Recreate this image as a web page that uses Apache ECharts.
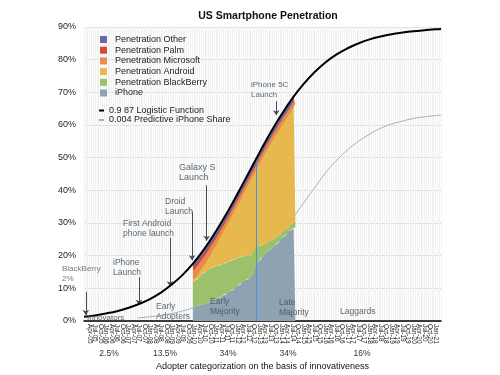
<!DOCTYPE html>
<html>
<head>
<meta charset="utf-8">
<script src="https://cdn.jsdelivr.net/npm/echarts@6/dist/echarts.min.js"></script>
<style>
  html, body { margin: 0; padding: 0; background: #fff; }
  #chart { width: 500px; height: 375px; }
</style>
</head>
<body>
<div id="chart"></div>
<script>
// monthly axis, Jan-05 .. Apr-21
const monthNames = ['Jan','Feb','Mar','Apr','May','Jun','Jul','Aug','Sep','Oct','Nov','Dec'];
const categories = [];
for (let y = 2005; y <= 2021; y++) {
  for (let m = 0; m < 12; m++) {
    if (y === 2021 && m > 3) break;
    categories.push(monthNames[m] + '-' + String(y).slice(2));
  }
}

// stacked penetration data, monthly from Jan-10 (index 60)
const dataStart = 60;
const iphone = [4.4,4.5,4.6,4.8,4.9,5.1,5.2,5.4,5.7,6.0,
  6.3,6.6,6.8,7.0,7.2,7.5,7.8,8.1,8.5,8.8,
  9.2,9.5,9.9,10.4,10.8,11.2,11.6,12.0,12.5,12.8,
  13.1,13.4,14.2,16.0,17.4,18.0,18.6,19.2,19.8,20.4,
  21.1,21.6,22.1,22.6,23.0,23.5,24.0,24.6,25.2,25.7,
  26.2,26.8,27.3,27.8,28.3,28.7];
const blackberry = [7.6,8.0,8.4,8.8,9.1,9.5,9.8,9.9,10.0,10.1,
  10.1,10.1,10.0,10.0,9.9,9.8,9.7,9.6,9.5,9.4,
  9.2,9.1,8.9,8.7,8.5,8.3,8.0,7.8,7.5,7.3,
  7.0,6.8,6.5,6.0,5.4,4.9,4.4,4.0,3.6,3.2,
  2.9,2.7,2.5,2.3,2.2,2.1,2.0,1.9,1.8,1.8,
  1.7,1.7,1.7,1.6,1.6,1.6];
const android = [1.0,1.2,1.5,1.8,2.2,2.4,2.7,3.5,4.0,4.6,
  5.3,5.9,6.8,7.7,8.7,9.4,10.3,11.1,11.8,12.6,
  13.5,14.4,15.2,15.9,16.7,17.6,18.6,19.5,20.3,21.3,
  22.3,23.3,23.8,23.6,23.8,24.9,25.8,26.6,27.4,28.2,
  28.8,29.5,30.2,30.8,31.4,31.9,32.4,32.8,33.2,33.5,
  34.0,34.3,34.6,35.1,35.6,36.2];
const microsoft = [2.8,2.8,2.8,2.7,2.7,2.6,2.6,2.5,2.4,2.3,
  2.2,2.1,2.0,1.9,1.8,1.8,1.7,1.7,1.6,1.6,
  1.6,1.6,1.6,1.6,1.6,1.6,1.6,1.6,1.6,1.6,
  1.6,1.6,1.6,1.6,1.6,1.6,1.6,1.6,1.6,1.7,
  1.7,1.7,1.7,1.7,1.7,1.8,1.8,1.8,1.8,1.8,
  1.8,1.8,1.8,1.8,1.8,1.8];
const palm = [1.0,1.0,1.0,0.9,0.9,0.9,0.9,0.8,0.8,0.8,
  0.7,0.7,0.7,0.6,0.6,0.6,0.5,0.5,0.5,0.5,
  0.4,0.4,0.4,0.4,0.4,0.4,0.3,0.3,0.3,0.3,
  0.3,0.3,0.3,0.3,0.3,0.2,0.2,0.2,0.2,0.2,
  0.2,0.2,0.2,0.2,0.2,0.2,0.2,0.2,0.2,0.2,
  0.1,0.1,0.1,0.1,0.1,0.1];
const other = [0.6,0.6,0.5,0.6,0.6,0.5,0.6,0.6,0.6,0.5,
  0.6,0.6,0.6,0.5,0.6,0.6,0.6,0.6,0.5,0.6,
  0.6,0.6,0.6,0.6,0.5,0.6,0.6,0.6,0.6,0.6,
  0.6,0.5,0.6,0.6,0.6,0.6,0.6,0.6,0.5,0.6,
  0.6,0.6,0.6,0.6,0.6,0.6,0.5,0.6,0.6,0.6,
  0.6,0.6,0.6,0.6,0.6,0.6];

// curves (month index, percent)
const logisticMonth = [0,6,12,18,24,30,36,42,48,54,60,66,72,78,84,90,96,102,108,114,120,126,132,138,144,150,156,162,168,174,180,186,192,195];
const logisticPct = [1.3,1.7,2.3,3.0,4.0,5.2,6.7,8.7,11.2,14.2,17.9,22.3,27.4,33.0,39.1,45.4,51.7,57.8,63.3,68.3,72.6,76.2,79.2,81.6,83.5,85.0,86.2,87.1,87.8,88.3,88.7,89.0,89.3,89.4];
const predictMonth = [29,36,42,48,54,60,66,72,78,84,90,96,102,108,114,120,126,132,138,144,150,156,162,168,174,180,186,192,195];
const predictPct = [0.9,1.3,1.7,2.3,3.1,4.1,5.3,6.9,9.0,11.5,14.5,18.1,22.1,26.6,31.4,36.2,40.8,45.4,49.2,52.4,55.0,57.2,59.0,60.3,61.2,62.0,62.5,62.9,63.0];

// event arrows: [month index, from %, to %]
const events = [[1, 8.9, 1.8], [30, 13.5, 5.0], [47, 25.5, 10.6], [59, 33.5, 18.6], [67, 41.5, 24.6], [105, 67.3, 63.0]];
const adopterShares = ['2.5%', '13.5%', '34%', '34%', '16%'];

const FONT = '"Liberation Sans", Arial, Helvetica, sans-serif';

function padded(arr) {
  const out = new Array(categories.length).fill(null);
  arr.forEach((v, i) => { out[dataStart + i] = v; });
  return out;
}
function pairs(xs, ys) {
  return xs.map((x, i) => [x, ys[i]]);
}

function areaSeries(name, arr, color) {
  return {
    name: name, type: 'line', stack: 'pen', step: 'middle',
    data: padded(arr), showSymbol: false, symbol: 'none',
    lineStyle: { width: 0 }, areaStyle: { color: color, opacity: 1 },
    itemStyle: { color: color }, z: 3
  };
}

const arrowLines = events.map(e => [
  { coord: [categories[e[0]], e[1]] },
  { coord: [categories[e[0]], e[2]] }
]);

const chart = echarts.init(document.getElementById('chart'), null, { renderer: 'canvas' });

// annotation texts
function note(text, x, y, color, size) {
  return {
    type: 'text', x: x, y: y, z: 50,
    style: { text: text, fill: color || '#5b6872', font: (size || 8.5) + 'px ' + FONT, lineHeight: 10, verticalAlign: 'top' }
  };
}
const shareX = [109, 165, 228, 288, 362];

const option = {
  animation: false,
  title: {
    text: 'US Smartphone Penetration', left: 263, top: 6, textAlign: 'center',
    textStyle: { fontFamily: FONT, fontSize: 10.5, fontWeight: 'bold', color: '#111' }
  },
  grid: { left: 84, right: 59, top: 27, bottom: 54, outerBoundsMode: 'none', containLabel: false },
  legend: [{
    data: ['Penetration Other', 'Penetration Palm', 'Penetration Microsoft', 'Penetration Android', 'Penetration BlackBerry', 'iPhone'],
    orient: 'vertical', left: 95, top: 30, itemWidth: 7, itemHeight: 7, itemGap: 1.7, icon: 'rect',
    textStyle: { fontFamily: FONT, fontSize: 9, color: '#222', padding: [0, 0, 0, 3] }
  }, {
    data: ['0.9 87 Logistic Function', '0.004 Predictive iPhone Share'],
    orient: 'vertical', left: 94, top: 101, itemWidth: 5, itemHeight: 2, itemGap: 0.5, icon: 'rect',
    textStyle: { fontFamily: FONT, fontSize: 9, color: '#222' }
  }],
  xAxis: {
    type: 'category', data: categories, boundaryGap: false,
    name: 'Adopter categorization on the basis of innovativeness',
    nameLocation: 'middle', nameGap: 41,
    nameTextStyle: { fontFamily: FONT, fontSize: 9, color: '#111' },
    axisLine: { lineStyle: { color: '#000', width: 1.5 } },
    axisTick: { show: false },
    axisLabel: { interval: 2, rotate: -90, fontSize: 6.5, fontFamily: FONT, color: '#222', margin: 3 },
    splitLine: { show: true, interval: 0, lineStyle: { color: '#f1f1f1', width: 1 } }
  },
  yAxis: {
    type: 'value', min: 0, max: 90, interval: 10,
    axisLabel: { formatter: '{value}%', fontFamily: FONT, fontSize: 9, color: '#222', margin: 8 },
    axisLine: { show: false }, axisTick: { show: false },
    splitLine: { lineStyle: { color: '#d4d4d4', width: 1 } }
  },
  series: [
    {
      name: '0.004 Predictive iPhone Share', type: 'line', data: pairs(predictMonth, predictPct),
      smooth: 0.5, showSymbol: false, symbol: 'none',
      lineStyle: { color: '#9fb0bd', width: 1 }, itemStyle: { color: '#9fb0bd' }, z: 2
    },
    Object.assign(areaSeries('iPhone', iphone, '#8ea2b1'), {
      markLine: {
        silent: true, symbol: 'none', label: { show: false },
        lineStyle: { color: '#4a8fe3', width: 1, type: 'solid' },
        data: [[{ coord: [categories[94], 0] }, { coord: [categories[94], 49.5] }]]
      }
    }),
    areaSeries('Penetration BlackBerry', blackberry, '#9cc16c'),
    areaSeries('Penetration Android', android, '#e6b84e'),
    areaSeries('Penetration Microsoft', microsoft, '#eb8a4f'),
    areaSeries('Penetration Palm', palm, '#d9482e'),
    areaSeries('Penetration Other', other, '#6868a8'),
    {
      name: '0.9 87 Logistic Function', type: 'line', data: pairs(logisticMonth, logisticPct),
      smooth: 0.5, showSymbol: false, symbol: 'none',
      lineStyle: { color: '#000', width: 2 }, itemStyle: { color: '#000' }, z: 10,
      markLine: {
        silent: true, symbol: ['none', 'arrow'], symbolSize: 5, label: { show: false },
        lineStyle: { color: '#3f4b54', width: 1, type: 'solid' },
        data: arrowLines
      }
    }
  ],
  graphic: [
    note('BlackBerry\n2%', 62, 264, '#6d7d89', 8),
    note('iPhone\nLaunch', 113, 258),
    note('First Android\nphone launch', 123, 219),
    note('Droid\nLaunch', 165, 197),
    note('Galaxy S\nLaunch', 179, 163, '#5b6872', 9),
    note('iPhone 5C\nLaunch', 251, 80, '#5b6872', 8),
    note('Innovators', 87, 313, '#5b6872', 8),
    note('Early\nAdopters', 156, 302),
    note('Early\nMajority', 210, 297, '#4f5e69'),
    note('Late\nMajority', 279, 298, '#4f5e69'),
    note('Laggards', 340, 307)
  ].concat(adopterShares.map((t, i) => ({
    type: 'text', x: shareX[i], y: 354, z: 50,
    style: { text: t, fill: '#333', font: '8.5px ' + FONT, align: 'center', verticalAlign: 'middle' }
  })))
};

chart.setOption(option);
</script>
</body>
</html>
